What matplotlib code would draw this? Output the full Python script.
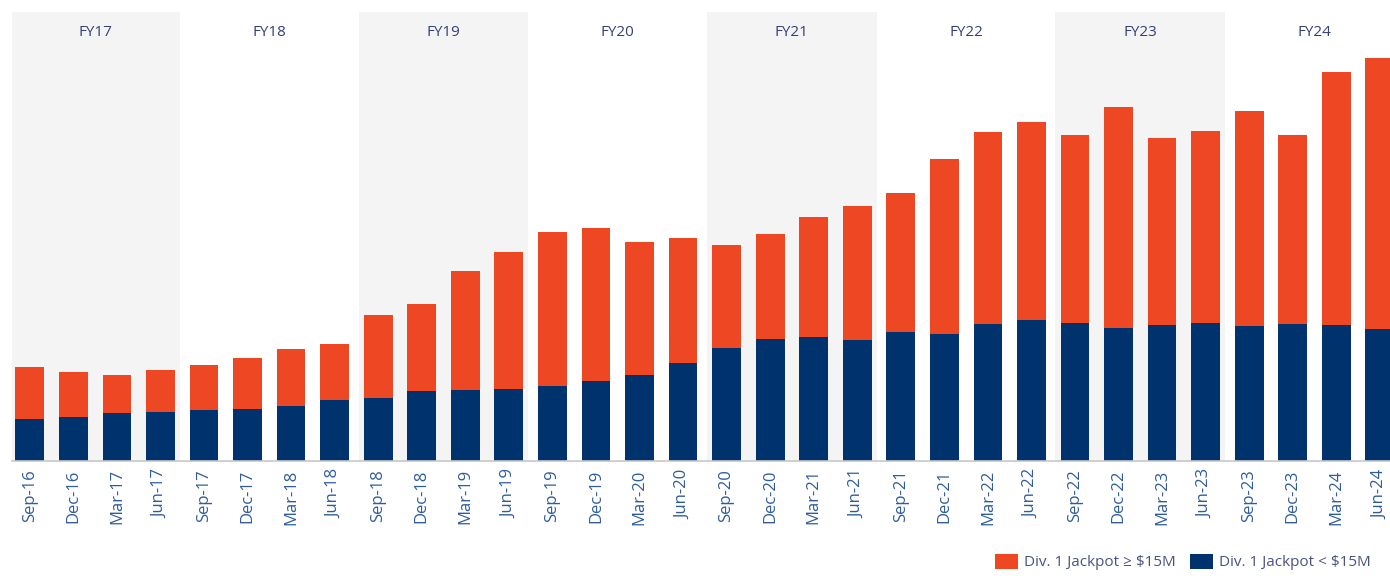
import matplotlib
matplotlib.use("Agg")
import matplotlib.pyplot as plt
from matplotlib.patches import Patch

quarters = ["Sep-16", "Dec-16", "Mar-17", "Jun-17", "Sep-17", "Dec-17", "Mar-18", "Jun-18",
            "Sep-18", "Dec-18", "Mar-19", "Jun-19", "Sep-19", "Dec-19", "Mar-20", "Jun-20",
            "Sep-20", "Dec-20", "Mar-21", "Jun-21", "Sep-21", "Dec-21", "Mar-22", "Jun-22",
            "Sep-22", "Dec-22", "Mar-23", "Jun-23", "Sep-23", "Dec-23", "Mar-24", "Jun-24"]

below_15m = [42, 44.5, 48, 49.5, 51, 52.5, 55.5, 61,
             63.5, 70, 71, 72, 75.5, 80, 86.5, 98.5,
             113.5, 122.5, 124.5, 121.5, 129, 127.5, 137, 141.5,
             138, 133.5, 136.5, 138, 135, 137, 136, 132]

above_15m = [52.5, 45, 38.5, 41.5, 45, 50.5, 57, 56,
             82.5, 87, 119.5, 137, 154, 153.5, 133, 125,
             103, 104.5, 119.5, 133.5, 139.5, 175, 192.5, 198,
             188.5, 221, 186.5, 192.5, 215, 189, 253, 271]

fiscal_years = ["FY17", "FY18", "FY19", "FY20", "FY21", "FY22", "FY23", "FY24"]

ORANGE = "#EE4723"
NAVY = "#00336E"
BAND = "#F4F4F4"
LABEL = "#2F5C9C"
TITLE = "#33407A"

plt.rcParams['font.family'] = ['Open Sans', 'DejaVu Sans']

W, H = 1390, 576
fig = plt.figure(figsize=(W / 100, H / 100), dpi=100)
left_px, right_px, top_px, base_px = 12, 1390, 12, 461
ax = fig.add_axes([left_px / W, (H - base_px) / H, (right_px - left_px) / W, (base_px - top_px) / H])

step = 43.55
x0 = 29.8
xmin = (left_px - x0) / step
xmax = (right_px - x0) / step
ax.set_xlim(xmin, xmax)
ymax = 449
ax.set_ylim(0, ymax)

x = list(range(len(quarters)))
for k, fy in enumerate(fiscal_years):
    lo, hi = 4 * k - 0.45, 4 * k + 3.45
    if k % 2 == 0:
        ax.axvspan(max(lo, xmin), hi, color=BAND, zorder=0, lw=0)
    ax.text(4 * k + 1.5, ymax - 21, fy, ha="center", va="center",
            fontsize=11, color=TITLE, zorder=3)

ax.bar(x, below_15m, width=0.66, color=NAVY, zorder=2, lw=0)
ax.bar(x, above_15m, width=0.66, bottom=below_15m, color=ORANGE, zorder=2, lw=0)

for s in ["top", "right", "left"]:
    ax.spines[s].set_visible(False)
ax.spines["bottom"].set_color("#C8C8C8")
ax.spines["bottom"].set_linewidth(1.2)
ax.set_yticks([])
ax.set_xticks(x)
ax.set_xticklabels(quarters, rotation=90, fontsize=12, color=LABEL)
ax.tick_params(axis="x", length=0, pad=6)

handles = [Patch(facecolor=ORANGE, edgecolor="none", label="Div. 1 Jackpot ≥ $15M"),
           Patch(facecolor=NAVY, edgecolor="none", label="Div. 1 Jackpot < $15M")]
fig.legend(handles=handles, loc="lower right", bbox_to_anchor=(0.996, -0.014), ncol=2,
           frameon=False, fontsize=11, handlelength=1.5, handleheight=1.15,
           handletextpad=0.4, columnspacing=0.9, labelcolor="#4A5280")

fig.savefig("out.png", dpi=100)
